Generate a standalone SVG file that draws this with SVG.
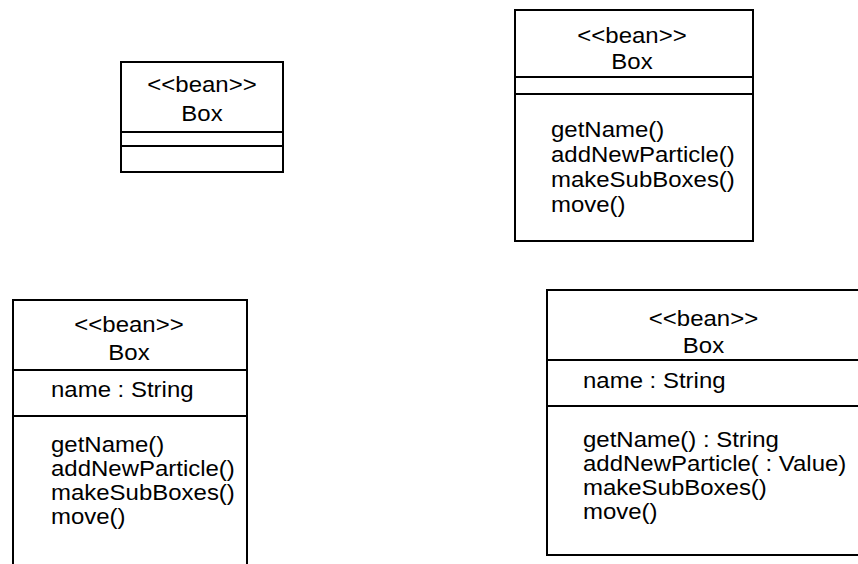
<svg xmlns="http://www.w3.org/2000/svg" width="858" height="564" viewBox="0 0 858 564">
<style>
.box{fill:#ffffff;stroke:#000000;stroke-width:2}
.div{stroke:#000000;stroke-width:2}
text{font-family:"Liberation Sans",Arial,sans-serif;font-size:22px;fill:#000000}
.c{text-anchor:middle}
</style>
<rect x="0" y="0" width="858" height="564" fill="#ffffff"/>
<g id="box1">
<rect class="box" x="121" y="62" width="162" height="110"/>
<line class="div" x1="121" y1="132" x2="283" y2="132"/>
<line class="div" x1="121" y1="146" x2="283" y2="146"/>
<text class="c" transform="translate(202,92) scale(1.09,1)">&lt;&lt;bean&gt;&gt;</text>
<text class="c" transform="translate(202,121) scale(1.09,1)">Box</text>
</g>
<g id="box2">
<rect class="box" x="515" y="10" width="238" height="231"/>
<line class="div" x1="515" y1="77" x2="753" y2="77"/>
<line class="div" x1="515" y1="94" x2="753" y2="94"/>
<text class="c" transform="translate(632,43) scale(1.09,1)">&lt;&lt;bean&gt;&gt;</text>
<text class="c" transform="translate(632,69) scale(1.09,1)">Box</text>
<text transform="translate(551,137) scale(1.09,1)">getName()</text>
<text transform="translate(551,162) scale(1.09,1)">addNewParticle()</text>
<text transform="translate(551,187) scale(1.09,1)">makeSubBoxes()</text>
<text transform="translate(551,212) scale(1.09,1)">move()</text>
</g>
<g id="box3">
<rect class="box" x="13" y="300" width="234" height="290"/>
<line class="div" x1="13" y1="370" x2="247" y2="370"/>
<line class="div" x1="13" y1="416" x2="247" y2="416"/>
<text class="c" transform="translate(129,332) scale(1.09,1)">&lt;&lt;bean&gt;&gt;</text>
<text class="c" transform="translate(129,360) scale(1.09,1)">Box</text>
<text transform="translate(51,397) scale(1.09,1)">name : String</text>
<text transform="translate(51,452) scale(1.09,1)">getName()</text>
<text transform="translate(51,476) scale(1.09,1)">addNewParticle()</text>
<text transform="translate(51,500) scale(1.09,1)">makeSubBoxes()</text>
<text transform="translate(51,524) scale(1.09,1)">move()</text>
</g>
<g id="box4">
<rect class="box" x="547" y="290" width="313" height="265"/>
<line class="div" x1="547" y1="360" x2="860" y2="360"/>
<line class="div" x1="547" y1="406" x2="860" y2="406"/>
<text class="c" transform="translate(703.5,326) scale(1.09,1)">&lt;&lt;bean&gt;&gt;</text>
<text class="c" transform="translate(703.5,353) scale(1.09,1)">Box</text>
<text transform="translate(583,388) scale(1.09,1)">name : String</text>
<text transform="translate(583,447) scale(1.09,1)">getName() : String</text>
<text transform="translate(583,471) scale(1.09,1)">addNewParticle( : Value)</text>
<text transform="translate(583,495) scale(1.09,1)">makeSubBoxes()</text>
<text transform="translate(583,519) scale(1.09,1)">move()</text>
</g>
<g id="connectors"/>
</svg>
